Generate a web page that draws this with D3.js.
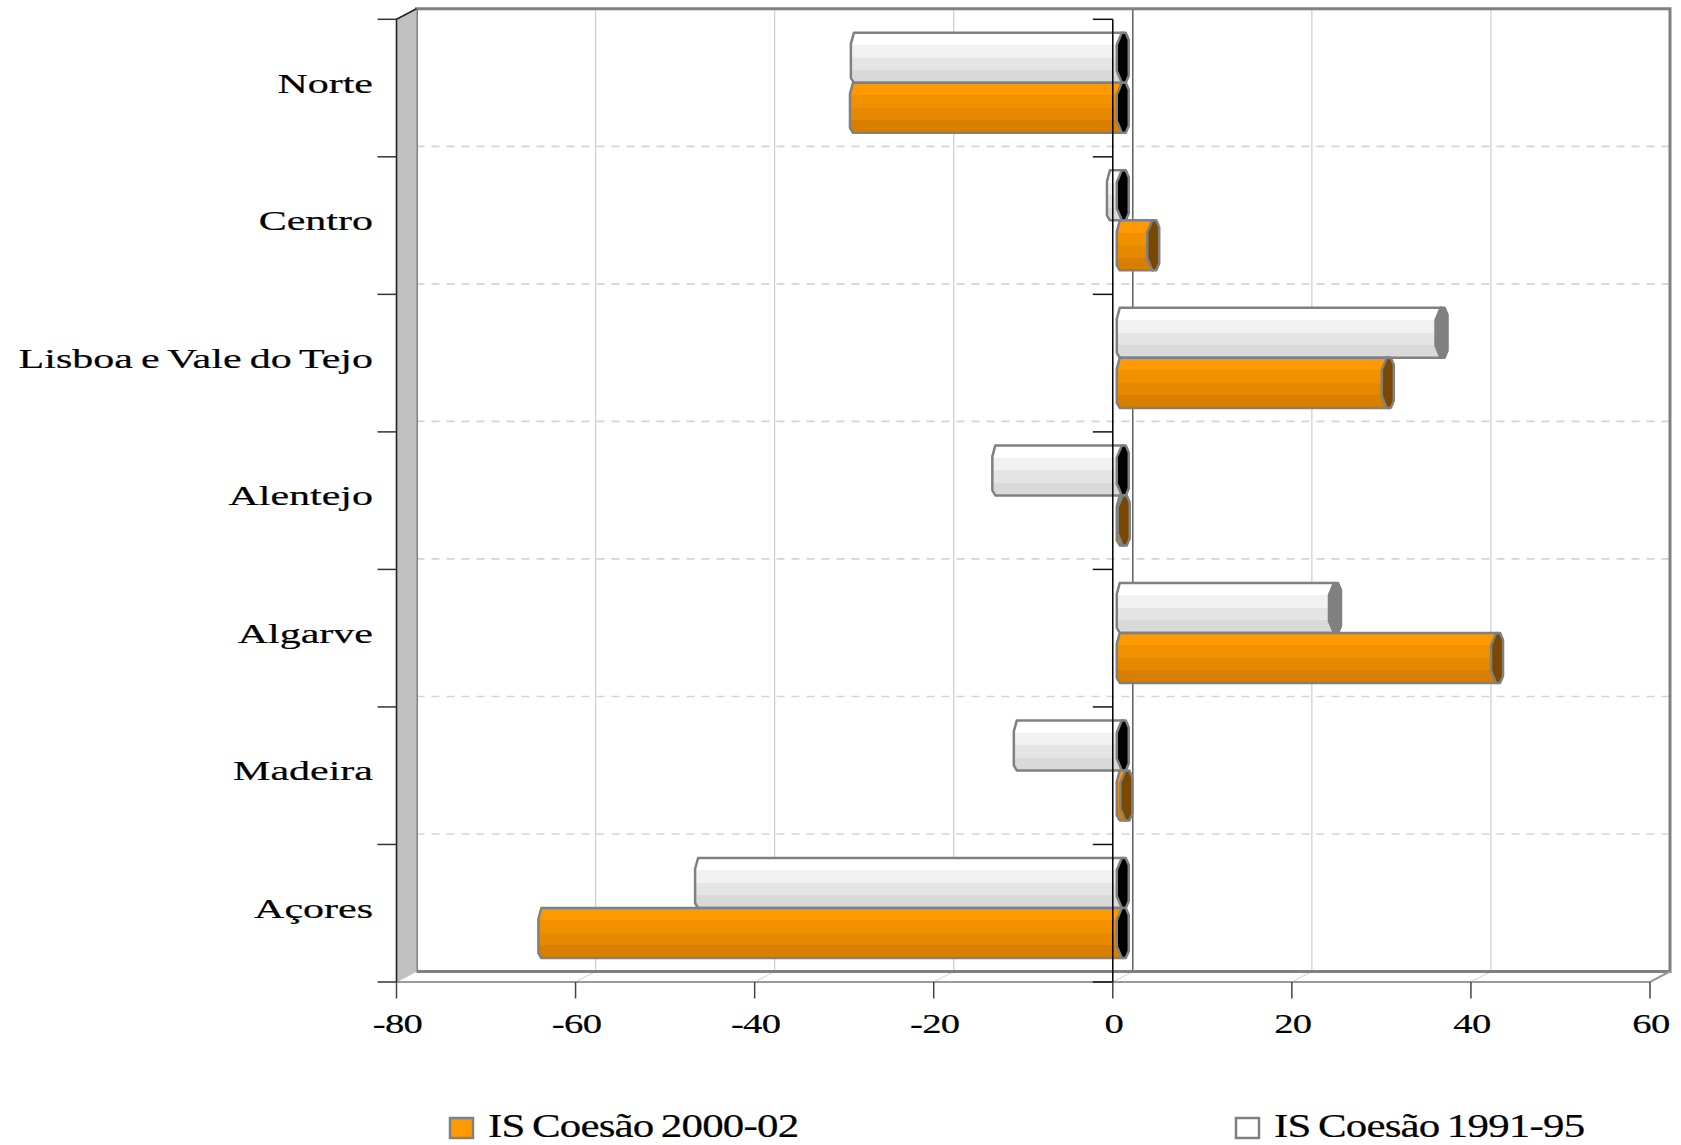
<!DOCTYPE html>
<html><head><meta charset="utf-8">
<script src="https://cdn.jsdelivr.net/npm/d3@7"></script>
<style>html,body{margin:0;padding:0;background:#fff}svg{display:block}</style>
</head><body>
<script>
const categories = ["Norte","Centro","Lisboa e Vale do Tejo","Alentejo","Algarve","Madeira","Açores"];
const seriesNames = ["IS Coesão 1991-95","IS Coesão 2000-02"];
const is1991 = [-29.7, -1.1, 35.6, -13.9, 23.7, -11.5, -47.1];
const is2000 = [-29.8, 3.4, 29.6, 0.1, 41.8, 0.4, -64.6];
const xTicks = [-80,-60,-40,-20,0,20,40,60];

const W = 1681, H = 1145;
const FONT = "'Liberation Serif','Times New Roman',serif";
const svg = d3.select("body").append("svg").attr("width", W).attr("height", H);
svg.append("rect").attr("width", W).attr("height", H).attr("fill", "#fff");

const x = d3.scaleLinear().domain([-80, 60]).range([396.5, 1650]);
const y = d3.scaleBand().domain(categories).range([19.3, 982]);
const sub = d3.scaleBand().domain(seriesNames).range([0, y.bandwidth()]).paddingInner(0).paddingOuter(0.375);
const DX = 20, DY = -10.5;
const x0 = x.range()[0], x1 = x.range()[1];
const yTop = y.range()[0], yBot = y.range()[1];

const defs = svg.append("defs");
function grad(id, cols) {
  const g = defs.append("linearGradient").attr("id", id).attr("x1", 0).attr("y1", 0).attr("x2", 0).attr("y2", 1);
  cols.forEach((c, i) => {
    g.append("stop").attr("offset", i / cols.length).attr("stop-color", c);
    g.append("stop").attr("offset", (i + 1) / cols.length).attr("stop-color", c);
  });
}
grad("gWhite", ["#ffffff", "#f1f1f1", "#e4e4e4", "#d9d9d9"]);
grad("gOrange", ["#ff9900", "#f29100", "#e68800", "#d97f00"]);

// back wall
svg.append("rect").attr("x", x0 + DX).attr("y", yTop + DY).attr("width", x1 - x0).attr("height", yBot - yTop).attr("fill", "#fff");
svg.append("g").selectAll("line").data(xTicks).join("line")
  .attr("x1", d => x(d) + DX).attr("x2", d => x(d) + DX)
  .attr("y1", yTop + DY).attr("y2", yBot + DY)
  .attr("stroke", d => d === 0 ? "#606060" : "#cccccc").attr("stroke-width", d => d === 0 ? 1.5 : 1.2);
svg.append("g").selectAll("line").data(categories.slice(1)).join("line")
  .attr("x1", x0 + DX).attr("x2", x1 + DX)
  .attr("y1", d => y(d) + DY).attr("y2", d => y(d) + DY)
  .attr("stroke", "#d4d4d4").attr("stroke-width", 1.6).attr("stroke-dasharray", "8,7");
// floor
svg.append("path")
  .attr("d", `M${x0},${yBot} L${x0 + DX},${yBot + DY} L${x1 + DX},${yBot + DY} L${x1},${yBot} Z`)
  .attr("fill", "#fff").attr("stroke", "none");
svg.append("g").selectAll("line").data(xTicks).join("line")
  .attr("x1", d => x(d)).attr("y1", yBot).attr("x2", d => x(d) + DX).attr("y2", yBot + DY)
  .attr("stroke", "#d0d0d0").attr("stroke-width", 1);
svg.append("path")
  .attr("d", `M${x0 + DX},${yBot + DY} V${yTop + DY} H${x1 + DX} V${yBot + DY} H${x0 + DX}`)
  .attr("fill", "none").attr("stroke", "#808080").attr("stroke-width", 3);
svg.append("path")
  .attr("d", `M${x0},${yBot} H${x1} L${x1 + DX},${yBot + DY}`)
  .attr("fill", "none").attr("stroke", "#9a9a9a").attr("stroke-width", 2.2);
// left wall
svg.append("path")
  .attr("d", `M${x0},${yTop} L${x0 + DX},${yTop + DY} L${x0 + DX},${yBot + DY} L${x0},${yBot} Z`)
  .attr("fill", "#c0c0c0").attr("stroke", "none");
svg.append("path")
  .attr("d", `M${x0},${yBot} V${yTop} L${x0 + DX},${yTop + DY}`)
  .attr("fill", "none").attr("stroke", "#222").attr("stroke-width", 1.6);

// bars
const MX = DX / 2, MY = DY / 2;
const barData = [];
categories.forEach((c, i) => {
  barData.push({cat: c, s: seriesNames[0], v: is1991[i], fill: "url(#gWhite)", cap: "#808080"});
  barData.push({cat: c, s: seriesNames[1], v: is2000[i], fill: "url(#gOrange)", cap: "#7a4800"});
});
const bars = svg.append("g");
barData.forEach(d => {
  const t = y(d.cat) + sub(d.s) + MY;
  const b = t + sub.bandwidth();
  const xm0 = x(0) + MX, xmv = x(d.v) + MX;
  let L, R, cx, capFill;
  if (d.v >= 0) { L = xm0 - 6; R = xmv; cx = xmv; capFill = d.cap; }
  else { L = xmv - 6; R = xm0; cx = xm0; capFill = "#000"; }
  bars.append("path")
    .attr("d", `M${L + 3},${t} H${R} V${b} H${L + 3} L${L},${b - 5} V${t + 11} Z`)
    .attr("fill", d.fill).attr("stroke", "#808080").attr("stroke-width", 2.5).attr("stroke-linejoin", "round");
  bars.append("path")
    .attr("d", `M${cx - 1},${t} H${cx + 3} L${cx + 6},${t + 7} V${b - 7} L${cx + 3},${b} H${cx - 1} L${cx - 6},${b - 12} V${t + 12} Z`)
    .attr("fill", capFill).attr("stroke", "#808080").attr("stroke-width", 2.5).attr("stroke-linejoin", "round");
});

// front zero axis with ticks
const boundaries = categories.map(c => y(c)).concat([yBot]);
svg.append("line").attr("x1", x(0)).attr("x2", x(0)).attr("y1", yTop).attr("y2", yBot)
  .attr("stroke", "#000").attr("stroke-width", 1.5);
svg.append("g").selectAll("line").data(boundaries).join("line")
  .attr("x1", x(0) - 20).attr("x2", x(0)).attr("y1", d => d).attr("y2", d => d)
  .attr("stroke", "#111").attr("stroke-width", 1.5);
svg.append("g").selectAll("line").data(boundaries).join("line")
  .attr("x1", x0 - 19).attr("x2", x0).attr("y1", d => d).attr("y2", d => d)
  .attr("stroke", "#333").attr("stroke-width", 1.5);
svg.append("g").selectAll("line").data(xTicks).join("line")
  .attr("x1", d => x(d)).attr("x2", d => x(d)).attr("y1", yBot).attr("y2", yBot + 16.5)
  .attr("stroke", "#444").attr("stroke-width", 1.5);

// x tick labels
svg.append("g").selectAll("g").data(xTicks).join("g")
  .attr("transform", d => `translate(${x(d) + 1},1033.3) scale(1.38,1)`)
  .append("text").attr("text-anchor", "middle")
  .attr("font-family", FONT).attr("font-size", 28).attr("letter-spacing", -0.5)
  .attr("fill", "#000").attr("stroke", "#000").attr("stroke-width", 0.2).text(d => d);

// category labels
svg.append("g").selectAll("g").data(categories).join("g")
  .attr("transform", d => `translate(373,${y(d) + y.bandwidth() / 2 + MY + 9.8}) scale(1.5,1)`)
  .append("text").attr("text-anchor", "end")
  .attr("font-family", FONT).attr("font-size", 28).attr("word-spacing", -1.6)
  .attr("fill", "#000").attr("stroke", "#000").attr("stroke-width", 0.2).text(d => d);

// legend
const legend = [
  {name: seriesNames[1], fill: "#ff9900", sx: 450, tx: 488},
  {name: seriesNames[0], fill: "#ffffff", sx: 1236, tx: 1274}
];
legend.forEach(l => {
  svg.append("rect").attr("x", l.sx).attr("y", 1118).attr("width", 23).attr("height", 20)
    .attr("fill", l.fill).attr("stroke", "#808080").attr("stroke-width", 2.5);
  svg.append("g").attr("transform", `translate(${l.tx},1137) scale(1.3,1)`)
    .append("text").attr("font-family", FONT)
    .attr("font-size", 33).attr("letter-spacing", -0.6).attr("word-spacing", -2)
    .attr("fill", "#000").attr("stroke", "#000").attr("stroke-width", 0.2).text(l.name);
});
</script>
</body></html>
